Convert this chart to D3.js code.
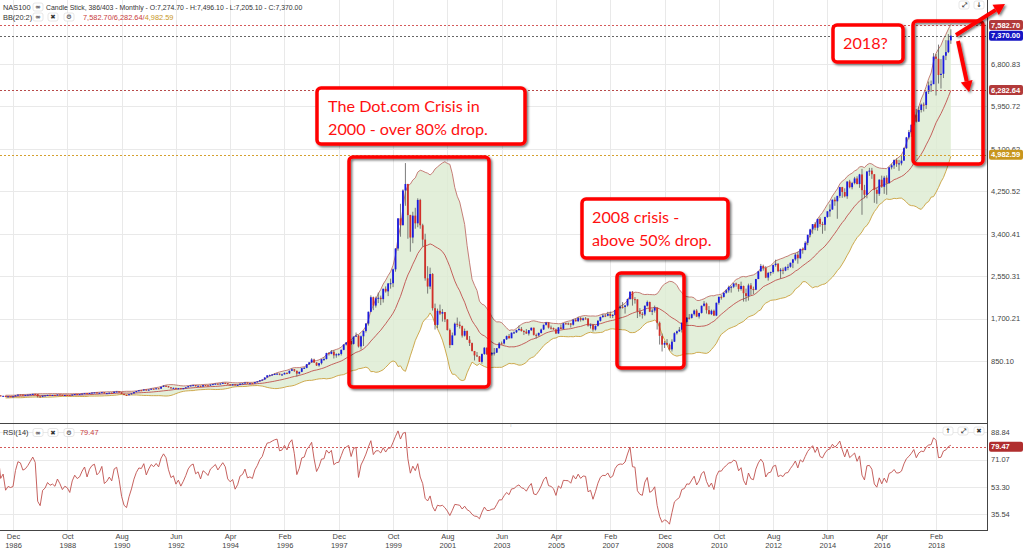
<!DOCTYPE html>
<html><head><meta charset="utf-8">
<script src="https://cdn.jsdelivr.net/npm/d3@7"></script>
<style>body{margin:0;background:#fff;overflow:hidden}svg{display:block;font-family:"Liberation Sans",Arial,sans-serif}</style>
</head><body><svg id="c" width="1024" height="550"></svg>
<script>
// Monthly NAS100 bars, Feb 1985 .. Aug 2018 (403 bars, first 17 off-screen)
const opens=[
125,127,122,121,127,128,130,126,117,122,130,
132,136,146,151,153,160,161,146,151,137,141,140,
141,160,175,174,168,170,175,182,190,186,141,133,
156,160,170,166,168,165,177,171,163,168,166,160,
177,187,183,186,196,204,193,208,216,219,207,212,
224,202,206,214,209,234,238,221,191,170,164,184,
201,226,247,262,261,278,257,277,294,290,302,296,
331,352,345,322,305,311,292,304,290,304,322,346,
360,366,346,353,338,366,362,356,378,386,395,385,
398,411,404,381,375,381,361,372,396,401,418,401,
404,401,426,441,464,478,520,562,566,579,590,596,
576,581,611,603,654,684,654,597,632,705,712,785,
821,880,818,761,805,885,889,1008,993,1035,962,985,
991,1073,1180,1220,1250,1192,1338,1359,1141,1345,1452,1600,
1836,2128,1960,2106,2117,2090,2296,2245,2404,2408,2687,3104,
3708,3570,4267,4397,3774,3324,3763,3609,4077,3570,3283,2507,
2342,2593,1908,1573,1855,1799,1830,1683,1470,1168,1364,1596,
1577,1550,1359,1452,1277,1209,1051,962,942,832,989,1116,
984,982,1010,1018,1106,1202,1201,1284,1349,1304,1417,1424,
1468,1493,1450,1438,1400,1467,1516,1373,1362,1412,1481,1575,
1621,1519,1510,1483,1401,1522,1493,1605,1603,1601,1577,1677,
1645,1710,1673,1703,1700,1560,1575,1480,1555,1654,1732,1760,
1757,1792,1754,1772,1870,1920,1934,1932,1963,2091,2239,2089,
2085,1841,1795,1781,1956,2031,1837,1860,1918,1615,1354,1177,
1212,1175,1082,1237,1406,1445,1477,1617,1633,1718,1713,1787,
1860,1741,1813,1956,2000,1869,1790,1856,1761,2016,2135,2134,
2218,2265,2333,2338,2402,2389,2292,2353,2208,2150,2365,2291,
2278,2492,2648,2755,2712,2521,2615,2632,2772,2799,2650,2678,
2661,2731,2738,2818,2887,2981,2909,3096,3073,3218,3378,3487,
3592,3521,3697,3596,3580,3736,3849,3885,4082,4050,4158,4334,
4236,4151,4446,4333,4415,4508,4396,4588,4274,4181,4648,4664,
4593,4279,4201,4483,4341,4523,4417,4730,4771,4875,4801,4810,
4864,5115,5330,5436,5584,5788,5647,5880,5988,5979,6248,6373,
6396,6949,6906,6581,6605,6967,7040,7274.7];
const highs=[
130,131,128,126,129,131,134,130,127,131,134,
140,148,155,158,162,166,163,153,154,143,145,144,
163,179,182,178,174,178,184,193,194,189,145,158,
162,173,174,172,170,179,180,173,170,171,168,179,
189,190,189,198,206,207,210,219,224,222,215,227,
226,210,217,219,236,244,244,222,193,175,186,204,
229,250,266,272,280,280,279,297,299,309,306,333,
365,360,347,324,318,313,307,306,308,325,348,362,
373,370,358,355,368,372,365,379,390,400,398,402,
418,416,406,384,384,383,375,398,408,420,420,408,
410,428,445,466,482,522,566,578,590,606,607,602,
595,620,622,658,700,690,655,636,708,728,790,830,
906,895,825,810,890,925,1015,1030,1070,1065,1002,1010,
1080,1185,1230,1275,1260,1340,1420,1370,1360,1460,1610,1840,
2165,2140,2140,2220,2160,2300,2345,2410,2500,2700,3110,3710,
4000,4290,4816,4400,3780,3840,3920,4110,4100,3600,3400,2750,
2720,2610,2000,1900,1980,1890,1830,1690,1500,1420,1620,1720,
1640,1560,1500,1460,1350,1220,1050,1030,950,1000,1125,1120,
1030,1030,1110,1110,1230,1240,1290,1360,1390,1420,1440,1475,
1560,1530,1470,1490,1470,1520,1520,1400,1420,1500,1580,1630,
1625,1560,1520,1500,1530,1580,1610,1620,1620,1610,1690,1705,
1735,1730,1720,1730,1710,1600,1590,1560,1670,1740,1790,1790,
1835,1840,1790,1880,1935,1960,2030,1970,2100,2240,2250,2130,
2085,1910,1830,1965,2060,2040,1900,1960,1925,1640,1400,1250,
1290,1200,1285,1425,1460,1530,1620,1660,1730,1790,1800,1880,
1890,1815,1960,2050,2020,1950,1880,1880,2020,2140,2170,2220,
2290,2360,2355,2410,2420,2390,2440,2360,2300,2400,2410,2340,
2495,2650,2795,2780,2750,2635,2640,2780,2880,2810,2710,2720,
2745,2790,2820,2895,3010,3040,3100,3125,3250,3380,3500,3595,
3630,3700,3730,3640,3740,3850,3990,4085,4130,4160,4340,4340,
4310,4450,4480,4440,4540,4550,4600,4700,4380,4650,4720,4720,
4590,4320,4490,4565,4560,4570,4740,4800,4890,4910,4880,4965,
5130,5340,5480,5590,5840,5900,5950,6010,6030,6250,6450,6470,
7020,7000,7190,6900,6975,7280,7400,7496.1];
const lows=[
122,121,119,118,120,126,125,124,115,118,124,
128,134,143,148,150,156,141,141,135,134,136,137,
139,158,168,160,162,166,171,177,178,118,119,123,
150,158,162,163,160,163,168,160,161,162,156,159,
176,180,180,184,194,190,191,205,212,203,205,208,
195,194,203,203,207,228,216,185,165,155,162,180,
196,222,242,254,255,254,255,273,282,285,287,290,
330,340,318,295,300,285,283,284,286,300,318,340,
355,335,338,325,335,352,345,352,368,380,378,380,
396,398,376,355,360,356,355,368,392,396,395,390,
394,398,422,438,455,478,520,548,560,570,580,565,
552,580,585,590,648,630,540,580,625,690,705,770,
815,810,750,735,780,850,880,960,985,900,915,945,
960,1065,1160,1200,1170,1180,1330,1120,1080,1150,1420,1560,
1830,1870,1920,2010,1970,2020,2220,2150,2300,2330,2640,3060,
3340,3570,3960,3300,3040,3210,3500,3530,3500,3140,2460,2200,
2290,1860,1480,1510,1770,1640,1630,1460,1110,1170,1360,1530,
1500,1320,1340,1270,1150,1040,860,930,830,795,975,970,
960,955,960,1010,1100,1180,1180,1270,1300,1310,1390,1410,
1460,1440,1370,1395,1360,1450,1360,1300,1340,1400,1470,1560,
1500,1480,1475,1390,1395,1490,1480,1580,1570,1520,1560,1640,
1640,1640,1650,1680,1540,1500,1440,1460,1540,1640,1715,1730,
1745,1710,1710,1760,1860,1890,1900,1800,1940,2080,1960,2000,
1710,1740,1700,1750,1940,1830,1770,1820,1480,1180,1040,1110,
1165,1060,1040,1230,1380,1430,1420,1580,1600,1680,1700,1760,
1730,1700,1800,1940,1800,1780,1770,1750,1750,1980,2080,2120,
2200,2220,2220,2310,2340,2240,2260,2040,2040,2060,2170,2190,
2270,2490,2640,2660,2510,2460,2560,2600,2740,2630,2500,2590,
2650,2670,2720,2710,2860,2800,2890,3000,3070,3170,3330,3400,
3470,3460,3540,3400,3460,3720,3740,3880,3960,3700,4120,4120,
4130,4100,4310,4290,4390,4390,4320,3780,4110,4110,4560,4500,
4020,4000,4160,4320,4200,4180,4400,4690,4700,4740,4660,4770,
4870,5100,5290,5340,5550,5630,5640,5830,5850,5900,6200,6240,
6400,6170,6410,6310,6520,6880,7020,7205.1];
const closes=[
127,122,121,127,128,130,126,117,122,130,132,
136,146,151,153,160,161,146,151,137,141,140,141,
160,175,174,168,170,175,182,190,186,141,133,156,
160,170,166,168,165,177,171,163,168,166,160,177,
187,183,186,196,204,193,208,216,219,207,212,224,
202,206,214,209,234,238,221,191,170,164,184,201,
226,247,262,261,278,257,277,294,290,302,296,331,
352,345,322,305,311,292,304,290,304,322,346,360,
366,346,353,338,366,362,356,378,386,395,385,398,
411,404,381,375,381,361,372,396,401,418,401,404,
401,426,441,464,478,520,562,566,579,590,596,576,
581,611,603,654,684,654,597,632,705,712,785,821,
880,818,761,805,885,889,1008,993,1035,962,985,991,
1073,1180,1220,1250,1192,1338,1359,1141,1345,1452,1600,1836,
2128,1960,2106,2117,2090,2296,2245,2404,2408,2687,3104,3708,
3570,4267,4397,3774,3324,3763,3609,4077,3570,3283,2507,2342,
2593,1908,1573,1855,1799,1830,1683,1470,1168,1364,1596,1577,
1550,1359,1452,1277,1209,1051,962,942,832,989,1116,984,
982,1010,1018,1106,1202,1201,1284,1349,1304,1417,1424,1468,
1493,1450,1438,1400,1467,1516,1373,1362,1412,1481,1575,1621,
1519,1510,1483,1401,1522,1493,1605,1603,1601,1577,1677,1645,
1710,1673,1703,1700,1560,1575,1480,1555,1654,1732,1760,1757,
1792,1754,1772,1870,1920,1934,1932,1963,2091,2239,2089,2085,
1841,1795,1781,1956,2031,1837,1860,1918,1615,1354,1177,1212,
1175,1082,1237,1406,1445,1477,1617,1633,1718,1713,1787,1860,
1741,1813,1956,2000,1869,1790,1856,1761,2016,2135,2134,2218,
2265,2333,2338,2402,2389,2292,2353,2208,2150,2365,2291,2278,
2492,2648,2755,2712,2521,2615,2632,2772,2799,2650,2678,2661,
2731,2738,2818,2887,2981,2909,3096,3073,3218,3378,3487,3592,
3521,3697,3596,3580,3736,3849,3885,4082,4050,4158,4334,4236,
4151,4446,4333,4415,4508,4396,4588,4274,4181,4648,4664,4593,
4279,4201,4483,4341,4523,4417,4730,4771,4875,4801,4810,4864,
5115,5330,5436,5584,5788,5647,5880,5988,5979,6248,6373,6396,
6949,6906,6581,6605,6967,7040,7274.7,7370];
const startYear=1985, startMonth=1; // Feb (0-based)
const firstVisible=17;
const yTicks=[850.10,1700.21,2550.31,3400.41,4250.52,5100.62,5950.72,6800.83];
const rsiTicks=[35.54,53.30,71.07,88.84];
const xTickMonths=["Dec","Oct","Aug","Jun","Apr","Feb","Dec","Oct","Aug","Jun","Apr","Feb","Dec","Oct","Aug","Jun","Apr","Feb"];
const xTickYears=[1986,1988,1990,1992,1994,1996,1997,1999,2001,2003,2005,2007,2008,2010,2012,2014,2016,2018];
const bbLast=[7582.70,6282.64,4982.59];
const rsiLast=79.47;
const monthIdx={Jan:0,Feb:1,Mar:2,Apr:3,May:4,Jun:5,Jul:6,Aug:7,Sep:8,Oct:9,Nov:10,Dec:11};

const svg=d3.select("#c");
const W=987, mainBottom=423, rsiTop=423, rsiBottom=530;
const x=d3.scaleLinear().domain([16.73,416.65]).range([0,W]);
const y=d3.scaleLinear().domain([0,8084]).range([403.4,0]);
const r=d3.scaleLinear().domain([25.0,94.3]).range([rsiBottom,424]);
const fmt=d3.format(",.2f");

const defs=svg.append("defs");
defs.append("clipPath").attr("id","cm").append("rect").attr("x",0).attr("y",0).attr("width",W).attr("height",mainBottom);
defs.append("clipPath").attr("id","cr").append("rect").attr("x",0).attr("y",rsiTop).attr("width",W).attr("height",rsiBottom-rsiTop);
const sh=defs.append("filter").attr("id","sh").attr("x","-10%").attr("y","-10%").attr("width","130%").attr("height","130%");
sh.append("feDropShadow").attr("dx",1.5).attr("dy",1.5).attr("stdDeviation",0.9).attr("flood-color","#000").attr("flood-opacity",0.55);

const xTickIdx=xTickMonths.map((m,i)=>(xTickYears[i]-startYear)*12+monthIdx[m]-startMonth);

// grid
const grid=svg.append("g");
grid.selectAll("line.h").data(yTicks).join("line").attr("x1",0).attr("x2",W)
 .attr("y1",d=>Math.round(y(d))+0.5).attr("y2",d=>Math.round(y(d))+0.5).attr("stroke","#e9e9e9");
grid.selectAll("line.r").data(rsiTicks).join("line").attr("x1",0).attr("x2",W)
 .attr("y1",d=>Math.round(r(d))+0.5).attr("y2",d=>Math.round(r(d))+0.5).attr("stroke","#e9e9e9");
grid.selectAll("line.v").data(xTickIdx).join("line").attr("y1",0).attr("y2",rsiBottom)
 .attr("x1",d=>Math.round(x(d))+0.5).attr("x2",d=>Math.round(x(d))+0.5).attr("stroke","#e9e9e9");

// Bollinger bands
const bb=[];
for(let i=19;i<closes.length;i++){
  const s=closes.slice(i-19,i+1), m=d3.mean(s), sd=Math.sqrt(d3.mean(s.map(v=>(v-m)*(v-m))));
  bb.push({i,m,u:m+2*sd,l:m-2*sd});
}
const main=svg.append("g").attr("clip-path","url(#cm)");
main.append("path").datum(bb).attr("fill","#dcebd1").attr("fill-opacity",0.8)
 .attr("d",d3.area().x(d=>x(d.i)).y0(d=>y(d.l)).y1(d=>y(d.u)));
main.append("path").datum(bb).attr("fill","none").attr("stroke","#c0706a").attr("stroke-width",0.9).attr("d",d3.line().x(d=>x(d.i)).y(d=>y(d.u)));
main.append("path").datum(bb).attr("fill","none").attr("stroke","#c0504d").attr("stroke-width",0.9).attr("d",d3.line().x(d=>x(d.i)).y(d=>y(d.m)));
main.append("path").datum(bb).attr("fill","none").attr("stroke","#c9a03c").attr("stroke-width",0.9).attr("d",d3.line().x(d=>x(d.i)).y(d=>y(d.l)));

// candles
const idx=d3.range(firstVisible,closes.length);
const cg=main.append("g");
cg.selectAll("line").data(idx).join("line")
 .attr("x1",i=>x(i)).attr("x2",i=>x(i)).attr("y1",i=>y(highs[i])).attr("y2",i=>y(lows[i]))
 .attr("stroke","#5a5a5a").attr("stroke-width",0.8);
cg.selectAll("rect").data(idx).join("rect")
 .attr("x",i=>x(i)-0.9).attr("width",1.8)
 .attr("y",i=>y(Math.max(opens[i],closes[i])))
 .attr("height",i=>Math.max(1,Math.abs(y(opens[i])-y(closes[i]))))
 .attr("fill",i=>closes[i]>=opens[i]?"#1b1be0":"#d2302a");

// level lines
const levels=[{v:bbLast[0],c:"#d45a5a",bg:"#b23a3a"},{v:closes[closes.length-1],c:"#666",bg:"#1616c4"},{v:bbLast[1],c:"#b84a4a",bg:"#b23a3a"},{v:bbLast[2],c:"#d4a030",bg:"#c8961e"}];
svg.selectAll("line.lv").data(levels).join("line").attr("x1",0).attr("x2",W)
 .attr("y1",d=>Math.round(y(d.v))+0.5).attr("y2",d=>Math.round(y(d.v))+0.5)
 .attr("stroke",d=>d.c).attr("stroke-dasharray","2,2").attr("stroke-width",1);

// RSI
function rsiCalc(c,n){const out=new Array(c.length).fill(null);let g=0,l=0;
 for(let i=1;i<=n;i++){const d=c[i]-c[i-1];if(d>0)g+=d;else l-=d;}g/=n;l/=n;out[n]=100-100/(1+g/l);
 for(let i=n+1;i<c.length;i++){const d=c[i]-c[i-1];g=(g*(n-1)+Math.max(d,0))/n;l=(l*(n-1)+Math.max(-d,0))/n;out[i]=l===0?100:100-100/(1+g/l);}
 return out;}
const rsi=rsiCalc(closes,14);
const rg=svg.append("g").attr("clip-path","url(#cr)");
rg.append("line").attr("x1",0).attr("x2",W).attr("y1",Math.round(r(rsiLast))+0.5).attr("y2",Math.round(r(rsiLast))+0.5)
 .attr("stroke","#d45a5a").attr("stroke-dasharray","2,2");
rg.append("path").datum(d3.range(14,closes.length)).attr("fill","none").attr("stroke","#c0504d").attr("stroke-width",0.9)
 .attr("d",d3.line().x(i=>x(i)).y(i=>r(rsi[i])));

// frame lines
svg.append("line").attr("x1",0).attr("x2",W).attr("y1",423.5).attr("y2",423.5).attr("stroke","#444");
svg.append("line").attr("x1",0).attr("x2",W).attr("y1",530.5).attr("y2",530.5).attr("stroke","#444");
svg.append("line").attr("x1",W+0.5).attr("x2",W+0.5).attr("y1",0).attr("y2",531).attr("stroke","#444");
svg.append("text").attr("x",510).attr("y",427).attr("font-size",6).attr("fill","#888").text("⁞");

// right axes
const ya=svg.append("g").attr("transform",`translate(${W},0)`).call(d3.axisRight(y).tickValues(yTicks).tickSize(0).tickPadding(4).tickFormat(fmt));
const ra=svg.append("g").attr("transform",`translate(${W},0)`).call(d3.axisRight(r).tickValues(rsiTicks).tickSize(0).tickPadding(4).tickFormat(fmt));
[ya,ra].forEach(a=>{a.select(".domain").remove();a.selectAll("text").attr("font-size",7.5).attr("fill","#444").attr("font-family","Liberation Sans, Arial");});

// markers
function marker(v,sc,bg,label){
  const yy=sc(v);
  svg.append("rect").attr("x",W+2).attr("y",yy-5).attr("width",34).attr("height",10).attr("rx",2).attr("fill",bg);
  svg.append("text").attr("x",W+4).attr("y",yy+2.7).attr("font-size",7.5).attr("font-weight","bold").attr("fill","#fff").text(label);
}
levels.forEach(d=>marker(d.v,y,d.bg,fmt(d.v)));
marker(rsiLast,r,"#b02e2e",fmt(rsiLast));

// x axis
const xa=svg.append("g").attr("transform",`translate(0,530)`).call(d3.axisBottom(x).tickValues(xTickIdx).tickSize(0).tickPadding(4).tickFormat((d,i)=>xTickMonths[i]));
xa.select(".domain").remove();
xa.selectAll("text").attr("font-size",7.5).attr("fill","#444").attr("font-family","Liberation Sans, Arial")
 .append("tspan").attr("x",0).attr("dy","1.1em").text((d,i)=>xTickYears[i]);

// header icons
function icon(cx,cy,g,w){
  const gg=svg.append("g");
  gg.append("rect").attr("x",cx-(w||5)).attr("y",cy-4).attr("width",2*(w||5)).attr("height",8).attr("rx",2).attr("fill","#fff").attr("stroke","#ddd").attr("stroke-width",0.7);
  gg.append("text").attr("x",cx).attr("y",cy+2.3).attr("text-anchor","middle").attr("font-size",6.5).attr("font-family","DejaVu Sans").attr("fill","#333").attr("font-weight","bold").text(g);
}
const hdr=svg.append("g").attr("font-size",7.4).attr("fill","#333");
hdr.append("text").attr("x",3).attr("y",9.5).text("NAS100");
icon(38,7,"∞");
hdr.append("text").attr("x",46).attr("y",9.5).attr("font-size",6.9).text(`Candle Stick, 386/403 - Monthly - O:${fmt(opens[opens.length-1])} - H:${fmt(highs[highs.length-1])} - L:${fmt(lows[lows.length-1])} - C:${fmt(closes[closes.length-1])}`);
hdr.append("text").attr("x",3).attr("y",19.5).text("BB(20:2)");
icon(38,17,"∞");icon(53,17,"✖");icon(69,17,"⚙");
const bbt=hdr.append("text").attr("x",83).attr("y",19.5);
bbt.append("tspan").attr("fill","#c83a3a").text(`${fmt(bbLast[0])}/${fmt(bbLast[1])}/`);
bbt.append("tspan").attr("fill","#c8961e").text(fmt(bbLast[2]));
hdr.append("text").attr("x",3).attr("y",435).text("RSI(14)");
icon(38,432.5,"∞");icon(53,432.5,"✖");icon(69,432.5,"⚙");
hdr.append("text").attr("x",80).attr("y",435).attr("fill","#c83a3a").text(fmt(rsiLast).replace(/,/g,""));
icon(964,5,"⤢");icon(979,5,"↓");
icon(948,431,"↑");icon(963,431,"⤢");icon(979,431,"✖");

// annotations
const ann=svg.append("g");
function box(x0,y0,x1,y1,fill){
  ann.append("rect").attr("x",x0).attr("y",y0).attr("width",x1-x0).attr("height",y1-y0).attr("rx",4)
   .attr("fill",fill||"none").attr("stroke","#ff0000").attr("stroke-width",3.5).attr("filter","url(#sh)");
}
function label(lines,x0,y0){
  lines.forEach((t,k)=>ann.append("text").attr("x",x0).attr("y",y0+k*22.6).attr("font-family","Lato, 'Open Sans', sans-serif")
   .attr("font-size",16.2).attr("fill","#ff1010").text(t));
}
box(317,88,525,144,"#fff"); label(["The Dot.com Crisis in","2000 - over 80% drop."],328,112);
box(349,157,489,387);
box(582,199,728,258,"#fff"); label(["2008 crisis -","above 50% drop."],592,223);
box(617,273,684,368);
box(833,25,903,62,"#fff"); label(["2018?"],843,49);
box(913,21,983,164);
function arrow(x0,y0,x1,y1){
  const a=Math.atan2(y1-y0,x1-x0), L=11, Wd=6;
  const bx=x1-L*Math.cos(a), by=y1-L*Math.sin(a);
  const g=ann.append("g").attr("filter","url(#sh)");
  g.append("line").attr("x1",x0).attr("y1",y0).attr("x2",bx).attr("y2",by).attr("stroke","#ff0000").attr("stroke-width",4);
  g.append("polygon").attr("fill","#ff0000").attr("points",[[x1,y1],[bx+Wd*Math.sin(a),by-Wd*Math.cos(a)],[bx-Wd*Math.sin(a),by+Wd*Math.cos(a)]].map(p=>p.join(",")).join(" "));
}
arrow(956,35,1005,4);
arrow(958,41,969,92);
</script></body></html>
